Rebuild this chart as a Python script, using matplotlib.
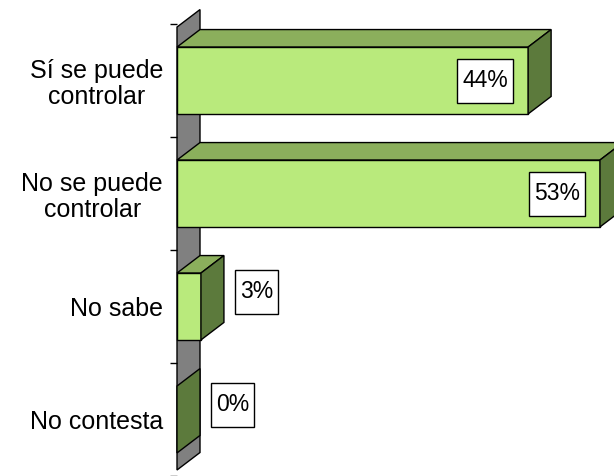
import matplotlib
matplotlib.use("Agg")
import matplotlib.pyplot as plt
from matplotlib.patches import Polygon, Rectangle
from matplotlib.transforms import ScaledTranslation

plt.rcParams['font.family'] = ['Liberation Sans', 'DejaVu Sans']

# datos
categorias = ["Sí se puede\ncontrolar", "No se puede\ncontrolar", "No sabe", "No contesta"]
valores = [44, 53, 3, 0]
etiquetas = ["44%", "53%", "3%", "0%"]

c_frente = '#B9EA7C'
c_arriba = '#8BAF5C'
c_lado = '#5C7A3C'
c_pared = '#808080'

fig = plt.figure(figsize=(6.14, 4.76), dpi=100)
ax = fig.add_axes([177 / 614, 0, 437 / 614, 452 / 476])
ax.set_xlim(0, 437 / 7.98)
ax.set_ylim(3.5, -0.5)

dx = 23 / 7.98     # profundidad en x (datos)
dy = 17.5 / 113    # profundidad en y (datos)
h = 0.296          # media altura de barra

# pared gris
y0, y1 = -0.473, 3.447
ax.add_patch(Polygon([(0, y0), (dx, y0 - dy), (dx, y1 - dy), (0, y1)],
                     closed=True, fc=c_pared, ec='black', lw=1, clip_on=False))

for i, v in enumerate(valores):
    top = i - h
    bot = i + h
    if v > 0:
        # cara de arriba y frente
        ax.add_patch(Polygon([(0, top), (v, top), (v + dx, top - dy), (dx, top - dy)],
                             closed=True, fc=c_arriba, ec='black', lw=1, clip_on=False))
        ax.add_patch(Polygon([(0, top), (v, top), (v, bot), (0, bot)],
                             closed=True, fc=c_frente, ec='black', lw=1, clip_on=False))
    # cara lateral
    ax.add_patch(Polygon([(v, top), (v + dx, top - dy), (v + dx, bot - dy), (v, bot)],
                         closed=True, fc=c_lado, ec='black', lw=1, clip_on=False))
    # etiqueta con recuadro
    if v > 10:
        tx, ty = v - 5.4, i
        w = 0.56
    else:
        tx, ty = v + 7.0, i - 0.13
        w = 0.43
    tr = fig.dpi_scale_trans + ScaledTranslation(tx, ty, ax.transData)
    ax.add_patch(Rectangle((-w / 2, -0.22), w, 0.44, transform=tr,
                           fc='white', ec='black', lw=1, clip_on=False))
    ax.text(tx, ty, etiquetas[i], ha='center', va='center', fontsize=16.5)

for s in ax.spines.values():
    s.set_visible(False)
ax.set_xticks([])
ax.set_yticks(range(len(categorias)))
ax.set_yticklabels(categorias, fontsize=18, linespacing=1.1, ha='right')
ax.set_yticks([-0.5, 0.5, 1.5, 2.5, 3.5], minor=True)
ax.tick_params(axis='y', which='major', length=0, pad=10)
ax.tick_params(axis='y', which='minor', length=5, width=1, color='black', direction='out')
for t in ax.get_yticklabels():
    t.set_multialignment('center')

fig.savefig("out.png", dpi=100)
